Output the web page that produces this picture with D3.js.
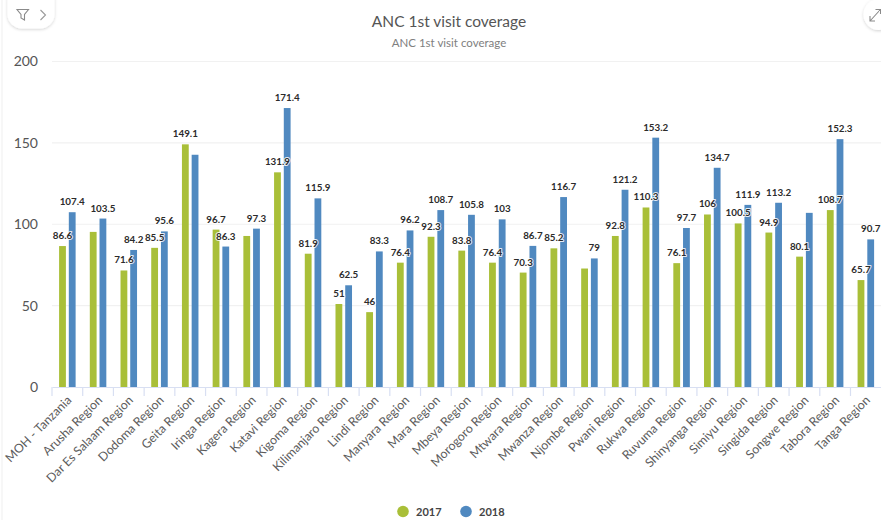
<!DOCTYPE html>
<html>
<head>
<meta charset="utf-8">
<script src="https://cdn.jsdelivr.net/npm/d3@7/dist/d3.min.js"></script>
<style>
  html, body { margin: 0; padding: 0; background: #fff; }
  svg { display: block; font-family: Lato, "Open Sans", sans-serif; }
</style>
</head>
<body>
<svg id="chart" width="881" height="520"></svg>
<script>
const categories = ["MOH - Tanzania", "Arusha Region", "Dar Es Salaam Region", "Dodoma Region", "Geita Region",
  "Iringa Region", "Kagera Region", "Katavi Region", "Kigoma Region", "Kilimanjaro Region", "Lindi Region",
  "Manyara Region", "Mara Region", "Mbeya Region", "Morogoro Region", "Mtwara Region", "Mwanza Region",
  "Njombe Region", "Pwani Region", "Rukwa Region", "Ruvuma Region", "Shinyanga Region", "Simiyu Region",
  "Singida Region", "Songwe Region", "Tabora Region", "Tanga Region"];
const values2017 = [86.6, 95.3, 71.6, 85.5, 149.1, 96.7, 92.8, 131.9, 81.9, 51, 46, 76.4, 92.3, 83.8, 76.4, 70.3,
  85.2, 72.8, 92.8, 110.3, 76.1, 106, 100.5, 94.9, 80.1, 108.7, 65.7];
const values2018 = [107.4, 103.5, 84.2, 95.6, 142.7, 86.3, 97.3, 171.4, 115.9, 62.5, 83.3, 96.2, 108.7, 105.8, 103,
  86.7, 116.7, 79, 121.2, 153.2, 97.7, 134.7, 111.9, 113.2, 107, 152.3, 90.7];
// Bars whose value label is dropped because it would collide with a neighbour
const unlabelled2017 = ["Arusha Region", "Kagera Region", "Njombe Region"];
const unlabelled2018 = ["Geita Region", "Songwe Region"];
const yTicks = [0, 50, 100, 150, 200];
const seriesNames = ["2017", "2018"];
const seriesColors = ["#a9bf38", "#5089c0"];

const svg = d3.select("#chart");
const plotLeft = 52, plotRight = 881, plotTop = 61.5, plotBottom = 387;

const x = d3.scaleBand().domain(categories).range([plotLeft, plotRight + 0.2]);
const y = d3.scaleLinear().domain([0, 200]).range([plotBottom, plotTop]);
const inner = d3.scaleBand().domain(seriesNames).range([0, x.bandwidth()]).paddingInner(0.3).paddingOuter(0.73);

// Card edge on the left
svg.append("line").attr("x1", 2).attr("x2", 2).attr("y1", 0).attr("y2", 520)
  .attr("stroke", "#f4f4f4").attr("stroke-width", 1.5);

// Title block
svg.append("text").attr("x", 449).attr("y", 26.5).attr("text-anchor", "middle")
  .attr("font-size", 15.5).attr("fill", "#555").text("ANC 1st visit coverage");
svg.append("text").attr("x", 449).attr("y", 47).attr("text-anchor", "middle")
  .attr("font-size", 11.5).attr("fill", "#808080").text("ANC 1st visit coverage");

// Horizontal grid
svg.append("g").selectAll("line").data(yTicks.filter(d => d > 0)).join("line")
  .attr("x1", plotLeft).attr("x2", plotRight)
  .attr("y1", d => y(d)).attr("y2", d => y(d))
  .attr("stroke", "#f1f1f1").attr("stroke-width", 1.2);

// Value axis
const yAxis = svg.append("g").attr("transform", `translate(${plotLeft},0)`)
  .call(d3.axisLeft(y).tickValues(yTicks).tickSize(0).tickPadding(14));
yAxis.select(".domain").remove();
yAxis.selectAll("text").attr("font-size", 14).attr("fill", "#555").attr("font-family", "Lato, sans-serif");

// Bars
const series = [
  { name: seriesNames[0], values: values2017, skip: unlabelled2017, color: seriesColors[0] },
  { name: seriesNames[1], values: values2018, skip: unlabelled2018, color: seriesColors[1] }
];
const rows = series.flatMap(s => s.values.map((v, i) => ({ cat: categories[i], v, s })));

svg.append("g").selectAll("rect").data(rows).join("rect")
  .attr("x", d => x(d.cat) + inner(d.s.name))
  .attr("width", inner.bandwidth())
  .attr("y", d => y(d.v))
  .attr("height", d => y(0) - y(d.v))
  .attr("fill", d => d.s.color);

// Category axis
const xAxis = svg.append("g").attr("transform", `translate(0,${plotBottom})`)
  .call(d3.axisBottom(x).tickSize(0).tickFormat(d => d));
xAxis.select(".domain").attr("stroke", "#d8dff2").attr("stroke-width", 1.2);
svg.append("g").attr("transform", `translate(0,${plotBottom})`)
  .selectAll("line").data(categories).join("line")
  .attr("x1", d => x(d)).attr("x2", d => x(d)).attr("y1", 0).attr("y2", 9)
  .attr("stroke", "#d8dff2").attr("stroke-width", 1.2);
xAxis.selectAll(".tick text")
  .attr("font-family", "Lato, sans-serif").attr("font-size", 12.3).attr("fill", "#5c5c5c")
  .attr("text-anchor", "end").attr("dy", 0).attr("y", 0)
  .attr("transform", "translate(5,14) rotate(-45)");

// Value labels with a white halo
svg.append("g").selectAll("text").data(rows.filter(d => !d.s.skip.includes(d.cat))).join("text")
  .attr("x", d => x(d.cat) + inner(d.s.name) + inner.bandwidth() / 2)
  .attr("y", d => y(d.v) - 7)
  .attr("text-anchor", "middle")
  .attr("font-size", 9.8).attr("font-weight", 700).attr("fill", "#2b2b2b")
  .attr("stroke", "#fff").attr("stroke-width", 2).attr("stroke-opacity", 0.85)
  .attr("stroke-linejoin", "round").attr("paint-order", "stroke")
  .text(d => d.v);

// Legend
const legendXs = [403, 466];
const legend = svg.append("g").selectAll("g").data(series).join("g")
  .attr("transform", (d, i) => `translate(${legendXs[i]},511.5)`);
legend.append("circle").attr("r", 5.8).attr("fill", d => d.color);
legend.append("text").attr("x", 13).attr("y", 4.2)
  .attr("font-size", 11).attr("font-weight", 700).attr("fill", "#444").text(d => d.name);

// Toolbar buttons: filter pill and expand button
const defs = svg.append("defs");
const shadow = defs.append("filter").attr("id", "soft").attr("x", "-30%").attr("y", "-30%").attr("width", "160%").attr("height", "170%");
shadow.append("feDropShadow").attr("dx", 0).attr("dy", 1).attr("stdDeviation", 1.6)
  .attr("flood-color", "#000").attr("flood-opacity", 0.18);

svg.append("rect").attr("x", 7.5).attr("y", -14).attr("width", 47).attr("height", 42.5).attr("rx", 14.5)
  .attr("fill", "#fff").attr("filter", "url(#soft)");
svg.append("path").attr("d", "M17 9.5H28.5L24.5 14.5V20L21 18V14.5Z")
  .attr("fill", "none").attr("stroke", "#8a8a8a").attr("stroke-width", 1.1);
svg.append("path").attr("d", "M40.5 10L45.5 15L40.5 20")
  .attr("fill", "none").attr("stroke", "#9a9a9a").attr("stroke-width", 1.1);

svg.append("circle").attr("cx", 879).attr("cy", 14.5).attr("r", 15.5)
  .attr("fill", "#fff").attr("filter", "url(#soft)");
svg.append("path").attr("d", "M870 21L880 10M875.5 9.5H880.5V14M870 16V21H875")
  .attr("fill", "none").attr("stroke", "#8a8a8a").attr("stroke-width", 1.1);
</script>
</body>
</html>
